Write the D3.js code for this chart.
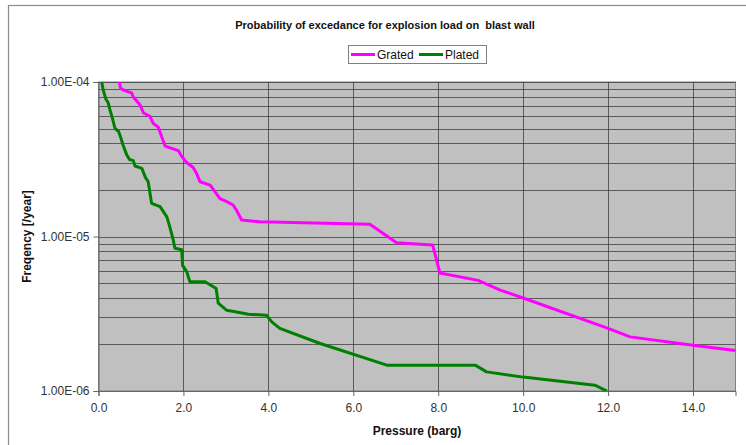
<!DOCTYPE html>
<html>
<head>
<meta charset="utf-8">
<script src="https://cdn.jsdelivr.net/npm/d3@7"></script>
<style>
  html, body { margin: 0; padding: 0; background: #fff; }
  svg { display: block; font-family: "Liberation Sans", Arial, sans-serif; }
</style>
</head>
<body>
<svg id="chart" width="746" height="445"></svg>
<script>
const chartTitle = "Probability of excedance for explosion load on  blast wall";
const xTitle = "Pressure (barg)";
const yTitle = "Freqency [/year]";
const seriesNames = ["Grated", "Plated"];
const seriesColors = ["#ff00ff", "#008000"];

const gratedPressure = [0.49, 0.52, 0.62, 0.78, 0.82, 0.98, 1.06, 1.21, 1.29, 1.41, 1.49, 1.57, 1.88, 1.96, 2.08, 2.23, 2.31, 2.39, 2.63, 2.86, 3.02, 3.17, 3.25, 3.37, 3.80, 6.39, 7.02, 7.87, 8.04, 8.94, 9.46, 10.0, 12.0, 12.52, 14.0, 15.0];
const gratedFreq = [1.0e-4, 9.1e-5, 8.8e-5, 8.5e-5, 8.0e-5, 7.1e-5, 6.3e-5, 6.0e-5, 5.4e-5, 5.1e-5, 4.4e-5, 3.85e-5, 3.6e-5, 3.3e-5, 3.0e-5, 2.8e-5, 2.56e-5, 2.26e-5, 2.15e-5, 1.76e-5, 1.68e-5, 1.6e-5, 1.48e-5, 1.28e-5, 1.245e-5, 1.2e-5, 9.1e-6, 8.8e-6, 5.8e-6, 5.2e-6, 4.5e-6, 4.0e-6, 2.54e-6, 2.24e-6, 1.98e-6, 1.83e-6];

const platedPressure = [0.075, 0.11, 0.17, 0.23, 0.27, 0.33, 0.39, 0.47, 0.52, 0.58, 0.66, 0.73, 0.82, 0.86, 1.02, 1.10, 1.17, 1.25, 1.45, 1.61, 1.68, 1.76, 1.80, 1.96, 1.98, 2.08, 2.15, 2.51, 2.77, 2.82, 3.02, 3.25, 3.53, 3.96, 4.08, 4.27, 5.22, 6.79, 8.87, 9.14, 10.0, 11.69, 11.97];
const platedFreq = [1.0e-4, 8.9e-5, 7.8e-5, 7.3e-5, 6.6e-5, 5.8e-5, 5.0e-5, 4.8e-5, 4.4e-5, 3.9e-5, 3.4e-5, 3.15e-5, 3.1e-5, 2.86e-5, 2.76e-5, 2.43e-5, 2.26e-5, 1.64e-5, 1.56e-5, 1.34e-5, 1.15e-5, 9.5e-6, 8.4e-6, 8.2e-6, 6.5e-6, 5.9e-6, 5.1e-6, 5.1e-6, 4.6e-6, 3.7e-6, 3.33e-6, 3.25e-6, 3.14e-6, 3.09e-6, 2.8e-6, 2.54e-6, 2.03e-6, 1.47e-6, 1.47e-6, 1.33e-6, 1.23e-6, 1.09e-6, 1.0e-6];

const xDomain = [0, 15];
const yDomain = [1e-6, 1e-4];
const xTickValues = [0, 2, 4, 6, 8, 10, 12, 14];
const yTickValues = [1e-4, 1e-5, 1e-6];
const yTickLabels = ["1.00E-04", "1.00E-05", "1.00E-06"];
const yGridValues = [2e-6,3e-6,4e-6,5e-6,6e-6,7e-6,8e-6,9e-6,1e-5,2e-5,3e-5,4e-5,5e-5,6e-5,7e-5,8e-5,9e-5];

const svg = d3.select("#chart");
const W = 746, H = 445;
const plot = { left: 98.5, top: 82, right: 735.5, bottom: 391 };

// outer chart border
svg.append("rect")
  .attr("x", 8.5).attr("y", 5.5).attr("width", 800).attr("height", 500)
  .attr("fill", "#fff").attr("stroke", "#8c8c8c").attr("stroke-width", 1.2);

const x = d3.scaleLinear().domain(xDomain).range([plot.left, plot.right]);
const y = d3.scaleLog().domain(yDomain).range([plot.bottom, plot.top]);

// plot background
svg.append("rect")
  .attr("x", plot.left).attr("y", plot.top)
  .attr("width", plot.right - plot.left).attr("height", plot.bottom - plot.top)
  .attr("fill", "#c0c0c0").attr("stroke", "#808080").attr("stroke-width", 1);

// horizontal gridlines
svg.append("g").selectAll("line").data(yGridValues.concat([1e-4]))
  .join("line")
  .attr("x1", plot.left).attr("x2", plot.right)
  .attr("y1", d => Math.round(y(d)) + 0.5).attr("y2", d => Math.round(y(d)) + 0.5)
  .attr("stroke", "#3a3a3a").attr("stroke-width", 1).attr("stroke-opacity", 0.75);

// vertical gridlines
svg.append("g").selectAll("line").data(xTickValues.filter(d => d > 0))
  .join("line")
  .attr("x1", d => Math.round(x(d)) + 0.5).attr("x2", d => Math.round(x(d)) + 0.5)
  .attr("y1", plot.top).attr("y2", plot.bottom)
  .attr("stroke", "#3a3a3a").attr("stroke-width", 1).attr("stroke-opacity", 0.75);

// axes
const yAxis = d3.axisLeft(y).tickValues(yTickValues)
  .tickFormat((d, i) => yTickLabels[i]).tickSize(5).tickPadding(4);
const gy = svg.append("g").attr("transform", `translate(${plot.left},0)`).call(yAxis);
gy.select(".domain").attr("stroke", "#666");
gy.selectAll(".tick line").attr("stroke", "#666");
gy.selectAll("text").attr("font-size", 12).attr("fill", "#333")
  .attr("font-family", "'Liberation Sans', Arial, sans-serif");

const xAxis = d3.axisBottom(x).tickValues(xTickValues)
  .tickFormat(d3.format(".1f")).tickSize(5).tickPadding(7);
const gx = svg.append("g").attr("transform", `translate(0,${plot.bottom})`).call(xAxis);
gx.select(".domain").attr("stroke", "#666");
gx.selectAll(".tick line").attr("stroke", "#666");
gx.selectAll("text").attr("font-size", 12).attr("fill", "#333")
  .attr("font-family", "'Liberation Sans', Arial, sans-serif");

// clip
svg.append("clipPath").attr("id", "clip").append("rect")
  .attr("x", plot.left).attr("y", plot.top - 2)
  .attr("width", plot.right - plot.left).attr("height", plot.bottom - plot.top + 2);

const line = d3.line().x(d => x(d[0])).y(d => y(d[1]));
const series = [
  d3.zip(gratedPressure, gratedFreq),
  d3.zip(platedPressure, platedFreq)
];
svg.append("g").attr("clip-path", "url(#clip)").selectAll("path").data(series)
  .join("path")
  .attr("d", line)
  .attr("fill", "none")
  .attr("stroke", (d, i) => seriesColors[i])
  .attr("stroke-width", 3)
  .attr("stroke-linejoin", "round");

// title
svg.append("text").attr("x", 385).attr("y", 29)
  .attr("text-anchor", "middle").attr("font-size", 11).attr("font-weight", "bold")
  .attr("fill", "#111").style("white-space", "pre").text(chartTitle);

// axis titles
svg.append("text").attr("x", (plot.left + plot.right) / 2).attr("y", 435)
  .attr("text-anchor", "middle").attr("font-size", 12).attr("font-weight", "bold")
  .attr("fill", "#111").text(xTitle);
svg.append("text")
  .attr("transform", `translate(31,${(plot.top + plot.bottom) / 2}) rotate(-90)`)
  .attr("text-anchor", "middle").attr("font-size", 12).attr("font-weight", "bold")
  .attr("fill", "#111").text(yTitle);

// legend
const lg = svg.append("g");
lg.append("rect").attr("x", 348.5).attr("y", 45.5).attr("width", 138).attr("height", 18)
  .attr("fill", "#fff").attr("stroke", "#808080");
const legendX = [351, 419];
seriesNames.forEach((name, i) => {
  lg.append("line").attr("x1", legendX[i]).attr("x2", legendX[i] + 24)
    .attr("y1", 54.5).attr("y2", 54.5)
    .attr("stroke", seriesColors[i]).attr("stroke-width", 3);
  lg.append("text").attr("x", legendX[i] + 26).attr("y", 59)
    .attr("font-size", 12).attr("fill", "#111").text(name);
});
</script>
</body>
</html>
